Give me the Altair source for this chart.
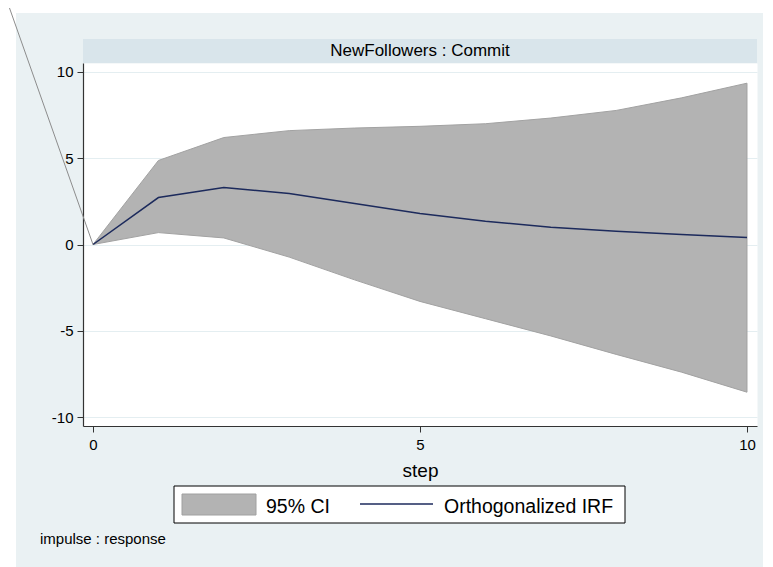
import altair as alt
import pandas as pd

# ---- data ----
steps = [0, 1, 2, 3, 4, 5, 6, 7, 8, 9, 10]
irf = [0, 2.72, 3.30, 2.96, 2.38, 1.80, 1.35, 1.00, 0.77, 0.58, 0.40]
ci_lower = [0, 0.69, 0.38, -0.73, -2.05, -3.30, -4.30, -5.30, -6.37, -7.40, -8.56]
ci_upper = [0, 4.87, 6.20, 6.60, 6.75, 6.85, 7.00, 7.33, 7.77, 8.50, 9.35]
x_ticks = [0, 5, 10]
y_ticks = [-10, -5, 0, 5, 10]
panel_title = "NewFollowers : Commit"
x_title = "step"
legend_labels = ["95% CI", "Orthogonalized IRF"]
note = "impulse : response"
# stray outline segment drawn by the original graph (from the origin up-left)
stray_x = [0, -1.36]
stray_y = [0, 14.6]

df = pd.DataFrame({"step": steps, "irf": irf, "lo": ci_lower, "hi": ci_upper})
stray = pd.DataFrame({"x0": [stray_x[0]], "x1": [stray_x[1]], "y0": [stray_y[0]], "y1": [stray_y[1]]})
one = pd.DataFrame({"k": [0]})

W, H = 674, 363
FONT = "Liberation Sans"
BG = "#EAF1F3"
STRIP = "#D9E5EB"
NAVY = "#1C2A5C"
BAND = "#B3B3B3"

xscale = alt.Scale(domain=[-0.153, 10.153], nice=False, zero=False)
yscale = alt.Scale(domain=[-10.52, 10.52], nice=False, zero=False)

xaxis = alt.Axis(values=x_ticks, title=x_title, grid=False, labelFontSize=15,
                 labelFont=FONT, labelColor="#000000", labelPadding=5, tickSize=6,
                 tickColor="#333333", domainColor="#333333", domainWidth=1.2,
                 titleFont=FONT, titleFontSize=19, titleFontWeight="normal",
                 titleColor="#000000", titleX=W / 2, titleY=50,
                 titleBaseline="alphabetic", format="d")
yaxis = alt.Axis(values=y_ticks, title="", grid=True, gridColor="#E4EEF1",
                 gridWidth=1, labelFontSize=15, labelFont=FONT, labelColor="#000000",
                 labelPadding=4, tickSize=6, tickColor="#333333",
                 domainColor="#333333", domainWidth=1.2,
                 labelExpr="datum.value < 0 ? '-' + abs(datum.value) : '' + datum.value")

def box(x1, x2, y1, y2, **kw):
    return alt.Chart(one).mark_rect(**kw).encode(
        x=alt.value(x1), x2=alt.value(x2), y=alt.value(y1), y2=alt.value(y2))

def label(txt, x, y, size, **kw):
    return alt.Chart(one).mark_text(text=txt, font=FONT, fontSize=size, color="#000000",
                                    baseline="alphabetic", **kw).encode(
        x=alt.value(x), y=alt.value(y))

# page margins outside the grey graph region
white_left = box(-75, -67, -55, 510, fill="#FFFFFF")
white_top = box(-75, 682, -55, -50, fill="#FFFFFF")
white_right = box(680, 682, -55, 510, fill="#FFFFFF")

strip = box(0, W, -24, 0, fill=STRIP)
strip_text = label(panel_title, W / 2, -7, 17, align="center")

stray_line = alt.Chart(stray).mark_rule(color="#8C8C8C", strokeWidth=1, clip=False).encode(
    x=alt.X("x0:Q", scale=xscale), x2="x1:Q",
    y=alt.Y("y0:Q", scale=yscale), y2="y1:Q")

band = alt.Chart(df).mark_area(fill=BAND, stroke="#A2A2A2", strokeWidth=1).encode(
    x=alt.X("step:Q", scale=xscale, axis=xaxis),
    y=alt.Y("lo:Q", scale=yscale, axis=yaxis),
    y2="hi:Q")

line = alt.Chart(df).mark_line(color=NAVY, strokeWidth=1.5).encode(
    x=alt.X("step:Q", scale=xscale),
    y=alt.Y("irf:Q", scale=yscale))

# legend box
leg_box = box(91, 542, 423, 460, fill="#FFFFFF", stroke="#000000", strokeWidth=1)
leg_swatch = box(99, 173, 431, 452, fill=BAND, stroke="#A0A0A0", strokeWidth=1)
leg_t1 = label(legend_labels[0], 183, 450, 19.5, align="left")
leg_line = alt.Chart(one).mark_rule(color=NAVY, strokeWidth=1.5).encode(
    x=alt.value(277), x2=alt.value(350), y=alt.value(441))
leg_t2 = label(legend_labels[1], 361, 450, 19.5, align="left")

note_text = label(note, -43, 481, 15, align="left")

chart = alt.layer(
    white_left, white_top, white_right, strip, strip_text, band, line, stray_line,
    leg_box, leg_swatch, leg_t1, leg_line, leg_t2, note_text
).properties(
    width=W, height=H,
    autosize=alt.AutoSizeParams(type="none"),
    padding={"left": 75, "top": 55, "right": 8, "bottom": 141},
    background=BG,
).configure_view(
    fill="#FFFFFF", stroke="transparent"
)

chart.save("out.html", embed_options={"renderer": "svg", "actions": False})
